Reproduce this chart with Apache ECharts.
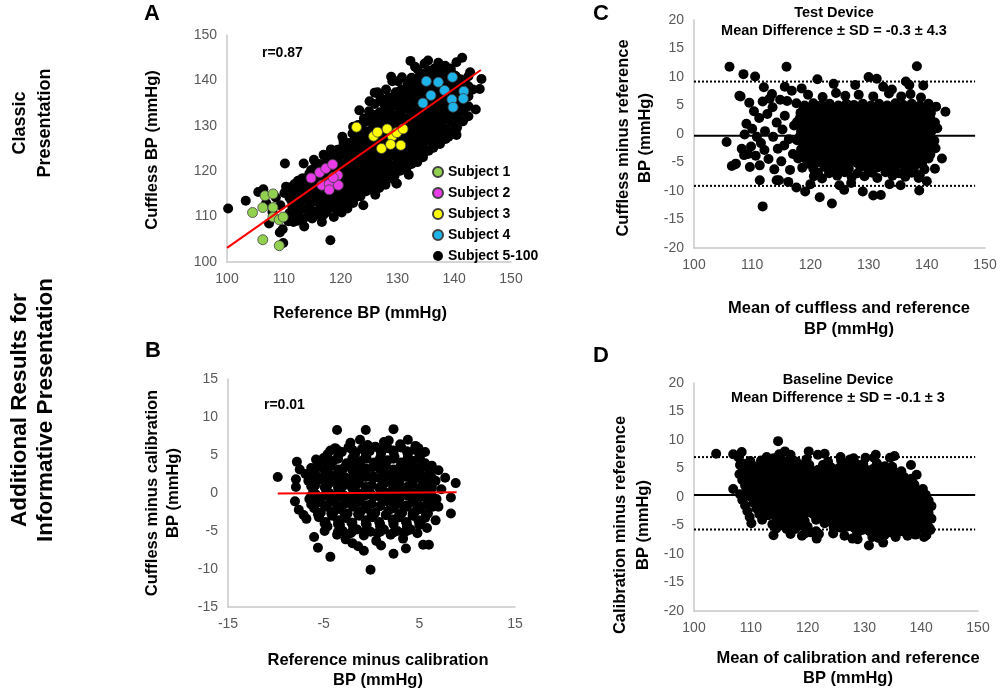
<!DOCTYPE html>
<html><head><meta charset="utf-8">
<script src="https://cdn.jsdelivr.net/npm/echarts/dist/echarts.min.js"></script>
<style>html,body{margin:0;padding:0;background:#fff}#c{width:1000px;height:692px}</style>
</head><body><div id="c"></div>
<script>
const FONT = '"Liberation Sans", Arial, Helvetica, sans-serif';

// ---------- tick values ----------
const ticksA_x = [100,110,120,130,140,150];
const ticksA_y = [100,110,120,130,140,150];
const ticksB_x = [-15,-5,5,15];
const ticksB_y = [-15,-10,-5,0,5,10,15];
const ticksC_x = [100,110,120,130,140,150];
const ticksC_y = [-20,-15,-10,-5,0,5,10,15,20];
const ticksD_x = [100,110,120,130,140,150];
const ticksD_y = [-20,-15,-10,-5,0,5,10,15,20];

// ---------- Panel A ----------
const subject1 = [[104.5,110.9],[106.3,112.0],[106.7,114.6],[108.1,115.0],[108.1,112.0],[106.3,104.9],[108.1,109.9],[109.2,109.3],[109.9,109.9],[109.2,103.6]];
const subject2 = [[114.8,118.5],[116.3,119.7],[117.4,120.6],[118.6,121.5],[116.7,116.9],[118.0,117.2],[118.0,115.9],[119.5,119.1],[119.6,116.9],[118.7,118.6]];
const subject3 = [[122.8,129.7],[125.8,127.7],[126.5,128.6],[128.2,129.3],[129.1,127.7],[129.9,128.5],[131.0,129.3],[127.2,125.0],[128.8,125.9],[130.6,125.7]];
const subject4 = [[135.1,139.8],[137.2,139.6],[139.7,140.7],[138.3,137.8],[135.9,136.7],[134.5,135.0],[139.6,135.8],[139.8,134.1],[141.7,137.6],[141.6,136.0]];
const subjectRest = [
[100.2,111.8],[103.3,113.5],[105.5,115.4],[106.9,113.0],[106.4,116.0],[108.0,111.0],[107.4,108.5],[108.6,114.2],
[109.3,106.5],[109.9,104.2],[109.8,107.2],[109.4,112.5],[110.1,115.2],[110.4,116.6],[110.2,121.7],[111.0,110.8],[111.3,113.6],[110.8,109.0],[111.7,108.8],[111.5,115.0],[111.9,117.2],[112.2,111.4],[112.3,113.9],
[112.8,112.5],[113.0,115.6],[113.2,118.4],[113.5,121.7],[112.7,110.2],[113.6,107.8],[113.9,114.0],[114.1,116.9],[114.4,112.0],[114.5,110.5],[114.7,118.3],[114.8,120.2],[114.6,115.2],[115.1,113.2],[115.0,109.6],[115.3,122.5],
[115.7,111.0],[115.9,114.6],[116.0,117.0],[115.9,119.8],[116.3,121.6],[116.5,112.8],[116.7,108.8],[116.8,115.8],[117.0,123.6],[117.2,110.7],[117.4,113.7],[117.5,118.8],[117.7,120.7],[117.9,116.2],[118.2,104.8],[118.1,111.9],[118.3,122.6],[118.3,124.8],
[118.6,114.0],[118.8,109.9],[118.9,117.6],[119.1,120.3],[119.3,122.8],[119.5,112.2],[119.7,115.6],[119.9,118.6],[120.1,124.6],[120.2,110.9],[120.3,121.2],[120.5,126.7],[120.7,113.9],[120.8,116.9],[120.9,119.4],[121.1,123.3],[121.2,111.8],
[121.4,115.0],[121.6,117.9],[121.7,120.5],[121.8,122.4],[121.9,125.2],[122.1,128.3],[122.2,113.0],[122.3,116.4],[122.5,119.1],[122.6,121.4],[122.8,123.8],[122.9,126.4],[123.1,130.2],[123.2,114.7],[123.4,117.5],[123.5,120.2],[123.6,122.6],[123.8,125.1],[123.9,127.6],[124.1,131.6],[124.0,112.5],
[124.2,115.9],[124.3,118.4],[124.5,121.0],[124.6,123.5],[124.7,126.1],[124.9,128.6],[125.0,133.2],[125.2,117.0],[125.3,119.6],[125.4,122.2],[125.6,124.6],[125.7,127.2],[125.8,129.8],[126.0,134.8],[126.1,114.8],[126.2,118.1],[126.4,120.8],[126.5,123.2],[126.6,125.8],[126.7,131.4],[126.9,133.0],[127.0,136.3],[126.8,116.3],
[127.0,119.3],[127.1,121.8],[127.2,124.3],[127.4,126.9],[127.5,129.4],[127.6,132.0],[127.8,134.5],[127.9,117.0],[128.0,120.3],[128.1,122.9],[128.3,125.5],[128.4,128.0],[128.5,130.6],[128.6,133.3],[128.8,136.0],[128.9,118.4],[129.0,121.2],[129.2,123.8],[129.3,126.4],[129.4,131.8],[129.5,134.6],[129.7,137.4],[129.1,139.8],[129.8,117.3],
[129.9,120.0],[130.0,122.6],[130.1,125.2],[130.3,127.7],[130.4,130.3],[130.5,132.9],[130.7,135.4],[130.8,138.0],[131.0,121.0],[131.1,123.7],[131.2,126.3],[131.4,128.9],[131.5,131.5],[131.6,134.1],[131.7,136.7],[131.8,139.3],[132.0,119.2],[132.1,122.8],[132.3,125.0],[132.4,127.6],[132.5,130.2],[132.6,132.8],[132.7,135.4],[132.3,144.3],[131.7,121.0],
[132.8,124.0],[132.9,126.6],[133.0,129.2],[133.2,131.8],[133.3,137.9],[133.4,140.4],[133.6,142.4],[133.7,125.4],[133.8,128.0],[133.9,130.6],[134.1,133.2],[134.2,136.0],[134.3,138.7],[134.5,141.3],[134.7,126.5],[134.8,129.2],[134.9,131.8],[135.0,134.4],[135.2,137.4],[134.8,143.7],[135.3,142.0],
[135.5,127.8],[135.6,130.4],[135.7,133.0],[135.9,135.6],[136.0,138.4],[136.1,141.2],[136.3,125.2],[136.5,129.0],[136.6,131.6],[136.8,134.2],[136.9,137.0],[137.1,139.8],[137.2,143.9],[137.4,142.2],[137.5,127.0],[137.6,130.2],[137.8,132.8],[137.9,135.4],[138.1,138.2],[138.3,141.0],[138.4,143.2],
[138.5,129.2],[138.7,131.8],[138.8,134.4],[139.0,137.2],[139.2,139.8],[139.4,142.6],[139.6,131.0],[139.8,133.4],[140.0,138.6],[140.2,141.0],[140.4,128.0],[140.6,132.8],[140.8,135.2],[141.0,137.8],[141.2,140.2],[140.4,144.0],
[141.4,145.0],[141.6,133.8],[141.9,134.1],[142.1,139.0],[142.4,136.5],[142.8,141.8],[143.8,133.6],[144.5,138.1],[144.8,140.3],[143.3,138.0],
[117.8,114.9],[118.4,119.3],[119.2,116.4],[119.6,121.8],[120.0,113.6],[120.6,118.0],[121.0,124.9],[121.2,121.1],[121.5,113.5],[122.0,119.3],[122.4,124.9],[122.7,117.6],[123.0,128.0],[123.3,121.4],[123.7,115.8],[123.7,129.3],[124.1,119.6],[124.4,124.6],[124.8,131.1],[124.8,117.2],
[125.1,121.0],[125.5,126.4],[125.8,132.4],[125.8,119.0],[126.2,124.5],[126.2,128.9],[126.6,121.9],[127.0,130.7],[127.0,117.9],[127.4,123.1],[127.4,135.6],[127.7,127.9],[128.2,121.6],[128.2,131.9],[128.7,124.4],[128.7,134.9],[129.1,127.4],[129.5,119.8],[129.6,129.6],[129.9,136.3],
[130.1,124.0],[130.2,134.2],[130.6,120.6],[130.7,128.8],[131.0,137.5],[131.1,131.0],[131.5,125.0],[131.6,123.0],[131.9,133.9],[132.0,137.9],[132.4,129.1],[132.5,140.6],[132.7,122.6],[132.8,134.9],[133.1,127.9],[133.1,139.2],[133.5,123.8],[133.5,133.0],[133.9,136.9],[134.0,126.9],
[134.3,131.6],[134.6,139.9],[134.6,124.0],[135.0,127.9],[135.0,135.7],[135.3,133.0],[135.4,140.5],[135.8,129.2],[135.9,136.9],[136.3,131.9],[136.5,142.6],[136.7,127.3],[136.8,135.7],[137.2,133.0],[137.3,138.6],[137.6,128.6],[137.7,136.6],[138.1,131.4],[138.2,139.7],[138.5,133.0],
[138.7,142.0],[139.0,127.6],[139.2,135.8],[139.4,138.6],[139.6,132.2],[139.9,140.0],[140.2,129.8],[140.5,136.5],[140.8,139.0],[141.4,136.8],[141.5,131.0],
[116.5,118.3],[116.9,110.3],[115.5,115.9],[114.6,113.5],[113.6,117.6],[113.1,113.9],[112.6,116.2],[111.7,112.4],[111.0,114.2],[115.4,120.7],[118.6,123.0],[120.3,127.6],[122.2,129.8],[123.3,133.4],[125.1,135.4],[126.0,137.3],[128.0,138.0],[128.9,140.8],[130.8,140.7],[133.1,143.0],[135.4,144.4],
[129.9,117.3],[136.3,125.2],[126.5,137.4],[130.1,139.8],
[111.5,110.0],[111.5,112.2],[111.5,114.4],[111.5,116.6],[112.5,109.1],[112.5,111.3],[112.5,113.5],[112.5,115.7],[112.5,117.9],
[113.5,109.6],[113.5,111.8],[113.5,114.0],[113.5,116.2],[113.5,118.4],[114.5,110.7],[114.5,112.9],[114.5,115.1],[114.5,117.3],[114.5,119.5],
[115.5,111.1],[115.5,113.3],[115.5,115.5],[115.5,117.7],[115.5,119.9],[116.5,110.2],[116.5,112.4],[116.5,114.6],[116.5,116.8],[116.5,119.0],[116.5,121.2],
[117.5,111.2],[117.5,113.4],[117.5,115.6],[117.5,117.8],[117.5,120.0],[117.5,122.2],
[118.5,112.3],[118.5,114.5],[118.5,116.7],[118.5,118.9],[118.5,121.1],[118.5,123.3],
[119.5,111.5],[119.5,113.7],[119.5,115.9],[119.5,118.1],[119.5,120.3],[119.5,122.5],[119.5,124.7],
[120.5,112.6],[120.5,114.8],[120.5,117.0],[120.5,119.2],[120.5,121.4],[120.5,123.6],[120.5,125.8],
[121.5,113.0],[121.5,115.2],[121.5,117.4],[121.5,119.6],[121.5,121.8],[121.5,124.0],[121.5,126.2],
[122.5,114.1],[122.5,116.3],[122.5,118.5],[122.5,120.7],[122.5,122.9],[122.5,125.1],[122.5,127.3],
[123.5,114.5],[123.5,116.7],[123.5,118.9],[123.5,121.1],[123.5,123.3],[123.5,125.5],[123.5,127.7],[123.5,129.9],
[124.5,115.6],[124.5,117.8],[124.5,120.0],[124.5,122.2],[124.5,124.4],[124.5,126.6],[124.5,128.8],[124.5,131.0],
[125.5,116.0],[125.5,118.2],[125.5,120.4],[125.5,122.6],[125.5,124.8],[125.5,127.0],[125.5,129.2],[125.5,131.4],
[126.5,117.1],[126.5,119.3],[126.5,121.5],[126.5,123.7],[126.5,125.9],[126.5,128.1],[126.5,130.3],[126.5,132.5],
[127.5,117.5],[127.5,119.7],[127.5,121.9],[127.5,124.1],[127.5,126.3],[127.5,128.5],[127.5,130.7],[127.5,132.9],[127.5,135.1],
[128.5,118.6],[128.5,120.8],[128.5,123.0],[128.5,125.2],[128.5,127.4],[128.5,129.6],[128.5,131.8],[128.5,134.0],[128.5,136.2],
[129.5,119.0],[129.5,121.2],[129.5,123.4],[129.5,125.6],[129.5,127.8],[129.5,130.0],[129.5,132.2],[129.5,134.4],[129.5,136.6],
[130.5,120.1],[130.5,122.3],[130.5,124.5],[130.5,126.7],[130.5,128.9],[130.5,131.1],[130.5,133.3],[130.5,135.5],[130.5,137.7],
[131.5,120.5],[131.5,122.7],[131.5,124.9],[131.5,127.1],[131.5,129.3],[131.5,131.5],[131.5,133.7],[131.5,135.9],[131.5,138.1],
[132.5,121.6],[132.5,123.8],[132.5,126.0],[132.5,128.2],[132.5,130.4],[132.5,132.6],[132.5,134.8],[132.5,137.0],[132.5,139.2],
[133.5,122.0],[133.5,124.2],[133.5,126.4],[133.5,128.6],[133.5,130.8],[133.5,133.0],[133.5,135.2],[133.5,137.4],[133.5,139.6],
[134.5,123.1],[134.5,125.3],[134.5,127.5],[134.5,129.7],[134.5,131.9],[134.5,134.1],[134.5,136.3],[134.5,138.5],[134.5,140.7],
[135.5,124.5],[135.5,126.7],[135.5,128.9],[135.5,131.1],[135.5,133.3],[135.5,135.5],[135.5,137.7],[135.5,139.9],[135.5,142.1],
[136.5,125.6],[136.5,127.8],[136.5,130.0],[136.5,132.2],[136.5,134.4],[136.5,136.6],[136.5,138.8],[136.5,141.0],
[137.5,126.0],[137.5,128.2],[137.5,130.4],[137.5,132.6],[137.5,134.8],[137.5,137.0],[137.5,139.2],[137.5,141.4],
[138.5,127.1],[138.5,129.3],[138.5,131.5],[138.5,133.7],[138.5,135.9],[138.5,138.1],[138.5,140.3],[138.5,142.5],
[139.5,128.5],[139.5,130.7],[139.5,132.9],[139.5,135.1],[139.5,137.3],[139.5,139.5],[139.5,141.7],
[140.5,129.6],[140.5,131.8],[140.5,134.0],[140.5,136.2],[140.5,138.4],[140.5,140.6],
[141.5,131.0],[141.5,133.2],[141.5,135.4],[141.5,137.6],[141.5,139.8],
[142.5,132.1],[142.5,134.3],[142.5,136.5],[142.5,138.7],[142.5,140.9]
];
const regressionA = [[100,103.1],[144.7,142.3]];

// ---------- Panel B ----------
const pointsB = [
[-2.2,6.6],[-0.4,6.3],[1.3,6.7],[3.0,6.4],
[-4.6,5.1],[-3.1,5.4],[-1.7,5.2],[-0.2,5.5],[1.0,5.2],[2.3,5.4],[3.8,5.1],[5.2,5.3],
[-5.6,4.0],[-4.0,4.2],[-2.6,3.9],[-1.1,4.2],[0.3,4.0],[1.7,4.3],[3.1,4.0],[4.4,4.2],[5.6,3.9],
[-6.2,2.8],[-4.9,3.0],[-3.4,2.7],[-2.0,3.0],[-0.6,2.8],[0.9,3.1],[2.3,2.8],[3.6,3.0],[5.0,2.7],[6.2,3.0],
[-6.6,1.6],[-5.4,1.8],[-4.1,1.5],[-2.7,1.8],[-1.3,1.6],[0.2,1.9],[1.6,1.6],[3.0,1.8],[4.3,1.5],[5.6,1.8],[6.7,1.6],
[-6.1,0.4],[-4.8,0.6],[-3.4,0.3],[-2.0,0.6],[-0.6,0.4],[0.8,0.7],[2.2,0.4],[3.6,0.6],[5.0,0.3],[6.3,0.6],
[-6.5,-0.8],[-5.3,-0.6],[-4.0,-0.9],[-2.6,-0.6],[-1.2,-0.8],[0.2,-0.5],[1.6,-0.8],[3.0,-0.6],[4.3,-0.9],[5.7,-0.6],[6.8,-0.8],
[-6.0,-2.0],[-4.7,-1.8],[-3.3,-2.1],[-1.9,-1.8],[-0.5,-2.0],[0.9,-1.7],[2.3,-2.0],[3.7,-1.8],[5.1,-2.1],[6.4,-1.8],
[-5.5,-3.2],[-4.1,-3.0],[-2.7,-3.3],[-1.3,-3.0],[0.1,-3.2],[1.5,-2.9],[2.9,-3.2],[4.3,-3.0],[5.6,-3.3],
[-4.6,-4.4],[-3.3,-4.2],[-1.9,-4.5],[-0.5,-4.2],[0.9,-4.4],[2.3,-4.1],[3.7,-4.4],[5.0,-4.2],
[-3.6,-5.5],[-2.2,-5.3],[-0.8,-5.6],[0.6,-5.3],[2.0,-5.5],[3.4,-5.2],
[-3.8,5.9],[-2.4,6.0],[-1.0,5.8],[0.4,6.1],[1.7,5.9],[3.1,6.0],[4.5,5.7],
[-5.0,4.6],[-3.5,4.8],[-2.0,4.6],[-0.6,4.9],[0.9,4.6],[2.4,4.8],[3.8,4.6],[5.0,4.8],
[-5.6,3.4],[-4.3,3.6],[-2.9,3.3],[-1.4,3.6],[0.1,3.4],[1.5,3.7],[3.0,3.4],[4.3,3.6],[5.7,3.4],
[-5.7,2.2],[-4.3,2.4],[-2.8,2.1],[-1.3,2.4],[0.2,2.2],[1.6,2.5],[3.0,2.2],[4.4,2.4],[5.8,2.2],
[-5.9,1.0],[-4.5,1.2],[-3.0,0.9],[-1.5,1.2],[0.0,1.0],[1.4,1.3],[2.9,1.0],[4.3,1.2],[5.7,0.9],
[-5.8,-0.2],[-4.4,0.0],[-2.9,-0.3],[-1.4,0.0],[0.0,-0.2],[1.4,0.1],[2.9,-0.2],[4.3,0.0],[5.6,-0.3],
[-5.8,-1.4],[-4.3,-1.2],[-2.9,-1.5],[-1.4,-1.2],[0.0,-1.4],[1.5,-1.1],[2.9,-1.4],[4.4,-1.2],[5.8,-1.5],
[-5.3,-2.6],[-3.9,-2.4],[-2.5,-2.7],[-1.1,-2.4],[0.4,-2.6],[1.8,-2.3],[3.2,-2.6],[4.6,-2.4],[5.9,-2.7],
[-4.8,-3.8],[-3.5,-3.6],[-2.0,-3.9],[-0.6,-3.6],[0.8,-3.8],[2.2,-3.5],[3.6,-3.8],[4.9,-3.6],
[-3.0,-5.0],[-1.5,-4.8],[-0.1,-5.1],[1.3,-4.8],[2.7,-5.0],[4.1,-4.8],
[-3.5,5.6],[-2.0,5.7],[-0.5,5.5],[0.9,5.7],[2.3,5.6],[3.7,5.5],
[-4.9,4.4],[-3.5,4.5],[-2.0,4.3],[-0.5,4.5],[0.9,4.4],[2.3,4.5],[3.7,4.3],[5.1,4.4],
[-6.3,3.3],[-4.9,3.2],[-3.5,3.1],[-2.1,3.3],[-0.6,3.2],[0.9,3.3],[2.3,3.1],[3.7,3.2],[5.1,3.3],[6.3,3.1],
[-6.3,2.0],[-4.9,2.1],[-3.5,1.9],[-2.1,2.0],[-0.6,2.1],[0.9,1.9],[2.3,2.0],[3.7,2.1],[5.1,1.9],[6.3,2.0],
[-6.3,0.9],[-4.9,0.8],[-3.5,0.7],[-2.1,0.9],[-0.6,0.8],[0.9,0.7],[2.3,0.9],[3.7,0.8],[5.1,0.7],[6.3,0.9],
[-6.3,-0.4],[-4.9,-0.3],[-3.5,-0.5],[-2.1,-0.4],[-0.6,-0.3],[0.9,-0.5],[2.3,-0.4],[3.7,-0.3],[5.1,-0.5],[6.3,-0.4],
[-6.3,-1.5],[-4.9,-1.6],[-3.5,-1.7],[-2.1,-1.5],[-0.6,-1.6],[0.9,-1.7],[2.3,-1.5],[3.7,-1.6],[5.1,-1.7],[6.3,-1.5],
[-5.6,-2.8],[-4.2,-2.7],[-2.8,-2.9],[-1.4,-2.8],[0.0,-2.7],[1.5,-2.9],[2.9,-2.8],[4.3,-2.7],[5.7,-2.9],
[-4.9,-4.0],[-3.5,-4.1],[-2.1,-3.9],[-0.6,-4.0],[0.9,-4.1],[2.3,-3.9],[3.7,-4.0],[5.1,-4.1],
[-3.5,-5.1],[-2.1,-5.2],[-0.6,-5.0],[0.9,-5.1],[2.3,-5.2],[3.7,-5.0],
[-9.8,2.1],[-7.8,4.1],[-7.5,3.1],[-7.9,1.8],[-7.9,0.8],[-8.0,-1.1],[-7.6,-2.2],[-7.1,-2.9],[-6.0,-5.8],[-5.6,-7.2],[-4.3,-8.4],[-3.6,8.3],[-0.6,8.3],[2.3,8.4],[-0.1,-10.1],[2.3,-8.0],[3.6,-7.3],[6.0,-6.8],[5.4,-6.8],[7.7,2.0],[8.8,1.3],[8.3,-0.6],[8.3,-2.7],[6.7,-3.6],[-5.8,4.4],[-4.3,5.6],[4.6,6.2],[5.6,5.4],[1.0,-6.9],[-2.0,-6.6],[-1.4,-7.0],[7.0,-1.8],[7.3,0.5],[-6.8,-3.4],[-2.7,-6.1],[1.8,6.9],[-1.2,7.0],[0.5,-6.3],[3.3,-6.0],[4.8,-5.3],[-4.9,-5.0],[6.3,3.6],[7.0,3.0],[-6.9,2.5],[5.8,-4.6],[-0.8,-7.6],[3.8,7.0],[4.9,5.9]
];
const regressionB = [[-9.8,-0.05],[8.9,0.1]];

// ---------- Panel C ----------
const pointsC = [
[119.6,6.9],[122.1,6.5],[124.4,7.2],[126.0,6.7],[128.3,6.9],[130.8,6.6],[133.5,7.1],[135.6,6.6],[137.2,7.0],[139.0,6.4],
[117.6,5.4],[119.0,5.0],[120.5,5.4],[121.9,5.1],[123.3,5.3],[124.8,5.0],[126.2,5.3],[127.5,5.1],[129.0,5.3],[130.4,5.0],[131.8,5.3],[133.2,5.0],[134.6,5.4],[136.0,5.1],[137.4,5.3],[138.8,5.0],[140.3,5.3],
[118.3,3.7],[119.7,3.5],[121.1,3.8],[122.5,3.5],[123.9,3.7],[125.3,3.5],[126.7,3.8],[128.1,3.5],[129.5,3.7],[130.9,3.5],[132.3,3.8],[133.7,3.5],[135.1,3.7],[136.5,3.5],[137.9,3.8],[139.3,3.5],[140.7,3.7],
[117.7,2.1],[119.1,1.9],[120.5,2.2],[121.9,1.9],[123.3,2.1],[124.7,1.9],[126.1,2.2],[127.5,1.9],[128.9,2.1],[130.3,1.9],[131.7,2.2],[133.1,1.9],[134.5,2.1],[135.9,1.9],[137.3,2.2],[138.7,1.9],[140.1,2.1],[141.4,2.0],
[118.4,0.5],[119.8,0.3],[121.2,0.6],[122.6,0.3],[124.0,0.5],[125.4,0.3],[126.8,0.6],[128.2,0.3],[129.6,0.5],[131.0,0.3],[132.4,0.6],[133.8,0.3],[135.2,0.5],[136.6,0.3],[138.0,0.6],[139.4,0.3],[140.8,0.5],
[117.7,-1.1],[119.1,-1.3],[120.5,-1.0],[121.9,-1.3],[123.3,-1.1],[124.7,-1.3],[126.1,-1.0],[127.5,-1.3],[128.9,-1.1],[130.3,-1.3],[131.7,-1.0],[133.1,-1.3],[134.5,-1.1],[135.9,-1.3],[137.3,-1.0],[138.7,-1.3],[140.1,-1.1],[141.3,-1.2],
[118.4,-2.7],[119.8,-2.9],[121.2,-2.6],[122.6,-2.9],[124.0,-2.7],[125.4,-2.9],[126.8,-2.6],[128.2,-2.9],[129.6,-2.7],[131.0,-2.9],[132.4,-2.6],[133.8,-2.9],[135.2,-2.7],[136.6,-2.9],[138.0,-2.6],[139.4,-2.9],[140.8,-2.7],
[117.9,-4.3],[119.3,-4.5],[120.7,-4.2],[122.1,-4.5],[123.5,-4.3],[124.9,-4.5],[126.3,-4.2],[127.7,-4.5],[129.1,-4.3],[130.5,-4.5],[131.9,-4.2],[133.3,-4.5],[134.7,-4.3],[136.1,-4.5],[137.5,-4.2],[138.9,-4.5],[140.3,-4.3],
[118.6,-5.9],[120.5,-6.1],[122.4,-5.8],[123.8,-6.2],[125.2,-5.9],[126.6,-6.1],[128.6,-5.8],[130.0,-6.2],[131.4,-5.9],[132.8,-6.1],[134.2,-5.8],[136.3,-6.1],[137.8,-5.9],[139.6,-6.2],
[120.6,-7.4],[122.0,-7.8],[124.6,-7.3],[127.1,-7.6],[129.3,-7.4],[131.5,-7.7],[134.1,-7.3],[136.3,-7.5],[138.6,-7.7],
[118.8,4.3],[120.2,4.5],[121.6,4.2],[123.0,4.5],[124.4,4.3],[125.8,4.5],[127.2,4.2],[128.6,4.5],[130.0,4.3],[131.4,4.5],[132.8,4.2],[134.2,4.5],[135.6,4.3],[137.0,4.5],[138.4,4.2],[139.8,4.5],
[118.2,2.8],[119.6,2.9],[121.0,2.7],[122.4,2.9],[123.8,2.8],[125.2,2.7],[126.6,2.9],[128.0,2.8],[129.4,2.7],[130.8,2.9],[132.2,2.8],[133.6,2.7],[135.0,2.9],[136.4,2.8],[137.8,2.7],[139.2,2.9],[140.6,2.8],
[118.8,1.2],[120.2,1.3],[121.6,1.1],[123.0,1.3],[124.4,1.2],[125.8,1.1],[127.2,1.3],[128.6,1.2],[130.0,1.1],[131.4,1.3],[132.8,1.2],[134.2,1.1],[135.6,1.3],[137.0,1.2],[138.4,1.1],[139.8,1.3],[141.1,1.2],
[118.2,-0.4],[119.6,-0.3],[121.0,-0.5],[122.4,-0.3],[123.8,-0.4],[125.2,-0.5],[126.6,-0.3],[128.0,-0.4],[129.4,-0.5],[130.8,-0.3],[132.2,-0.4],[133.6,-0.5],[135.0,-0.3],[136.4,-0.4],[137.8,-0.5],[139.2,-0.3],[140.6,-0.4],
[118.8,-2.0],[120.2,-1.9],[121.6,-2.1],[123.0,-1.9],[124.4,-2.0],[125.8,-2.1],[127.2,-1.9],[128.6,-2.0],[130.0,-2.1],[131.4,-1.9],[132.8,-2.0],[134.2,-2.1],[135.6,-1.9],[137.0,-2.0],[138.4,-2.1],[139.8,-1.9],[141.1,-2.0],
[118.2,-3.6],[119.6,-3.5],[121.0,-3.7],[122.4,-3.5],[123.8,-3.6],[125.2,-3.7],[126.6,-3.5],[128.0,-3.6],[129.4,-3.7],[130.8,-3.5],[132.2,-3.6],[133.6,-3.7],[135.0,-3.5],[136.4,-3.6],[137.8,-3.7],[139.2,-3.5],[140.6,-3.6],
[119.6,-5.2],[121.0,-5.1],[122.4,-5.3],[123.8,-5.1],[125.2,-5.2],[126.6,-5.3],[128.0,-5.1],[129.4,-5.2],[130.8,-5.3],[132.2,-5.1],[133.6,-5.2],[135.0,-5.3],[136.4,-5.1],[137.8,-5.2],[139.2,-5.3],
[121.3,-6.8],[123.2,-6.9],[125.9,-6.7],[128.1,-6.9],[130.6,-6.8],[132.9,-6.7],[135.2,-6.9],[137.4,-6.8],
[108.0,6.6],[109.5,5.5],[110.3,4.0],[111.2,2.8],[109.0,1.8],[110.0,0.9],[108.7,-0.1],[110.8,-0.5],[109.8,-2.2],[108.2,-2.6],[110.6,-3.8],[111.5,-1.6],[112.2,0.5],[112.6,3.5],[111.8,5.7],[113.5,4.7],[113.0,6.2],[114.2,2.0],[113.6,-0.5],[114.4,-2.6],[112.8,-4.4],[113.8,-6.2],[115.0,-4.8],[115.5,-2.0],[115.2,0.8],[115.6,3.2],[116.0,5.8],[116.3,-0.9],[116.5,-6.3],[117.0,-3.5],[117.2,1.5],[116.8,7.6],[112.0,8.2],[111.3,-5.5],[114.6,-8.1],[116.2,-8.4],[113.4,7.0],[114.8,6.0],[115.6,8.3],[112.1,-2.8],[109.3,-3.5],[107.2,-5.2],
[106.1,11.8],[115.9,11.8],[138.3,11.9],[108.5,10.5],[110.5,10.1],[121.2,9.6],[107.8,6.7],[105.6,-1.4],[106.5,-5.6],[107.1,-5.3],[111.8,-12.7],[109.6,-5.8],[111.3,-8.1],[114.2,-8.1],[117.6,-9.4],[119.1,-10.1],[121.6,-11.1],[123.7,-12.2],[125.8,-9.8],[129.0,-10.1],[130.8,-10.8],[132.1,-10.7],[138.7,-9.9],[142.6,-4.3],[143.2,3.9],[141.4,-6.1],[131.4,9.7],[127.7,8.6],[139.4,8.5],[136.4,9.2],[134.0,7.8],[108.6,-3.7],[125.0,-9.0],[133.6,-8.8],[127.0,-8.6],[120.0,-8.8],[140.0,-8.3],[138.8,-7.2],[141.6,4.8],[141.8,1.0],[141.5,-2.5],[130.0,10.0],[132.5,8.3],[137.0,8.6],[135.5,-9.0],[124.0,8.8],[118.5,8.0]
];
const meanC = -0.3, upperC = 9.2, lowerC = -9.1, lineEndC = 148.3;

// ---------- Panel D ----------
const pointsD = [
[116.1,-1.2],[116.6,-2.2],[117.1,-3.2],[117.6,-4.2],[118.1,-5.2],
[116.6,0.4],[117.1,-0.6],[117.6,-1.6],[118.1,-2.6],[118.6,-3.6],[119.1,-4.6],
[115.7,5.2],[116.2,4.2],[116.7,3.2],[117.2,2.2],[117.7,1.2],[118.2,0.2],[118.7,-0.8],[119.2,-1.8],[119.7,-2.8],
[116.5,6.0],[117.0,5.0],[117.5,4.0],[118.0,3.0],[118.5,2.0],[119.0,1.0],[119.5,0.0],[120.0,-1.0],[120.5,-2.0],[121.0,-3.0],[121.5,-4.0],
[117.0,7.4],[117.5,6.4],[118.0,5.4],[118.5,4.4],[119.0,3.4],[119.5,2.4],[120.0,1.4],[120.5,0.4],[121.0,-0.6],[121.5,-1.6],[122.0,-2.6],[122.5,-3.6],[123.0,-4.6],
[119.1,5.6],[119.6,4.6],[120.1,3.6],[120.6,2.6],[121.1,1.6],[121.6,0.6],[122.1,-0.4],[122.6,-1.4],[123.1,-2.4],[123.6,-3.4],[124.1,-4.4],[124.6,-5.4],
[119.8,6.6],[120.3,5.6],[120.8,4.6],[121.3,3.6],[121.8,2.6],[122.3,1.6],[122.8,0.6],[123.3,-0.4],[123.8,-1.4],[124.3,-2.4],[124.8,-3.4],[125.3,-4.4],[125.8,-5.4],
[121.9,4.8],[122.4,3.8],[122.9,2.8],[123.4,1.8],[123.9,0.8],[124.4,-0.2],[124.9,-1.2],[125.4,-2.2],[125.9,-3.2],[126.4,-4.2],[126.9,-5.2],
[122.7,5.6],[123.2,4.6],[123.7,3.6],[124.2,2.6],[124.7,1.6],[125.2,0.6],[125.7,-0.4],[126.2,-1.4],[126.7,-2.4],[127.2,-3.4],[127.7,-4.4],[128.2,-5.4],[128.7,-6.4],
[123.6,6.2],[124.1,5.2],[124.6,4.2],[125.1,3.2],[125.6,2.2],[126.1,1.2],[126.6,0.2],[127.1,-0.8],[127.6,-1.8],[128.1,-2.8],[128.6,-3.8],[129.1,-4.8],[129.6,-5.8],
[125.4,5.0],[125.9,4.0],[126.4,3.0],[126.9,2.0],[127.4,1.0],[127.9,0.0],[128.4,-1.0],[128.9,-2.0],[129.4,-3.0],[129.9,-4.0],[130.4,-5.0],[130.9,-6.0],[131.4,-7.0],
[125.9,6.4],[126.4,5.4],[126.9,4.4],[127.4,3.4],[127.9,2.4],[128.4,1.4],[128.9,0.4],[129.4,-0.6],[129.9,-1.6],[130.4,-2.6],[130.9,-3.6],[131.4,-4.6],[131.9,-5.6],[132.4,-6.6],
[127.6,5.4],[128.1,4.4],[128.6,3.4],[129.1,2.4],[129.6,1.4],[130.1,0.4],[130.6,-0.6],[131.1,-1.6],[131.6,-2.6],[132.1,-3.6],[132.6,-4.6],[133.1,-5.6],[133.6,-6.6],
[128.1,6.8],[128.6,5.8],[129.1,4.8],[129.6,3.8],[130.1,2.8],[130.6,1.8],[131.1,0.8],[131.6,-0.2],[132.1,-1.2],[132.6,-2.2],[133.1,-3.2],[133.6,-4.2],[134.1,-5.2],[134.6,-6.2],
[129.8,5.8],[130.3,4.8],[130.8,3.8],[131.3,2.8],[131.8,1.8],[132.3,0.8],[132.8,-0.2],[133.3,-1.2],[133.8,-2.2],[134.3,-3.2],[134.8,-4.2],[135.3,-5.2],[135.8,-6.2],
[131.5,4.9],[132.0,3.9],[132.5,2.9],[133.0,1.9],[133.5,0.9],[134.0,-0.1],[134.5,-1.1],[135.0,-2.1],[135.5,-3.1],[136.0,-4.1],[136.5,-5.1],[137.0,-6.1],
[131.7,6.9],[132.2,5.9],[132.7,4.9],[133.2,3.9],[133.7,2.9],[134.2,1.9],[134.7,0.9],[135.2,-0.1],[135.7,-1.1],[136.2,-2.1],[136.7,-3.1],[137.2,-4.1],[137.7,-5.1],[138.2,-6.1],
[133.6,5.4],[134.1,4.4],[134.6,3.4],[135.1,2.4],[135.6,1.4],[136.1,0.4],[136.6,-0.6],[137.1,-1.6],[137.6,-2.6],[138.1,-3.6],[138.6,-4.6],[139.1,-5.6],
[134.9,5.3],[135.4,4.3],[135.9,3.3],[136.4,2.3],[136.9,1.3],[137.4,0.3],[137.9,-0.7],[138.4,-1.7],[138.9,-2.7],[139.4,-3.7],[139.9,-4.7],[140.4,-5.7],[140.9,-6.7],
[136.5,4.5],[137.0,3.5],[137.5,2.5],[138.0,1.5],[138.5,0.5],[139.0,-0.5],[139.5,-1.5],[140.0,-2.5],[140.5,-3.5],[141.0,-4.5],[141.5,-5.5],
[138.3,3.2],[138.8,2.2],[139.3,1.2],[139.8,0.2],[140.3,-0.8],[140.8,-1.8],[141.3,-2.8],[141.8,-3.8],
[140.3,1.4],[140.8,0.4],[141.3,-0.6],[141.8,-1.6],
[108.0,4.0],[108.5,3.0],[109.0,2.0],[109.5,1.0],[110.0,0.0],[110.5,-1.0],[111.0,-2.0],[111.5,-3.0],[112.0,-4.0],
[109.6,6.0],[110.1,5.0],[110.6,4.0],[111.1,3.0],[111.6,2.0],[112.1,1.0],[112.6,0.0],[113.1,-1.0],[113.6,-2.0],[114.1,-3.0],[114.6,-4.0],[115.1,-5.0],
[111.1,5.4],[111.6,4.4],[112.1,3.4],[112.6,2.4],[113.1,1.4],[113.6,0.4],[114.1,-0.6],[114.6,-1.6],[115.1,-2.6],[115.6,-3.6],[116.1,-4.6],[116.6,-5.6],
[111.8,6.4],[112.3,5.4],[112.8,4.4],[113.3,3.4],[113.8,2.4],[114.3,1.4],[114.8,0.4],[115.3,-0.6],[115.8,-1.6],[116.3,-2.6],[116.8,-3.6],[117.3,-4.6],[117.8,-5.6],
[112.8,7.0],[113.3,6.0],[113.8,5.0],[114.3,4.0],[114.8,3.0],[115.3,2.0],[115.8,1.0],[116.3,0.0],[116.8,-1.0],[117.3,-2.0],[117.8,-3.0],[118.3,-4.0],[118.8,-5.0],[119.5,-6.4],
[114.0,6.8],[114.5,5.8],[115.0,4.8],[115.5,3.8],[116.0,2.8],[116.5,1.8],[117.0,0.8],[117.5,-0.2],[118.0,-1.2],[118.5,-2.2],[119.0,-3.2],[119.5,-4.2],[120.0,-5.2],[120.5,-6.2],
[107.8,7.0],[108.3,6.0],[108.8,5.0],[109.3,4.0],[109.8,3.0],[110.3,2.0],[110.8,1.0],
[121.5,-6.0],[119.0,-6.8],[117.0,-6.5],
[103.9,7.6],[106.9,7.5],[108.4,7.9],[106.9,1.4],[108.1,5.6],[108.6,4.6],[109.1,3.6],[109.6,2.6],[108.1,0.5],[108.5,-0.5],[109.0,-1.5],[109.4,-2.5],[109.8,-3.5],[110.1,-4.6],[109.9,6.3],[110.4,5.3],[110.9,4.3],[111.4,3.3],[111.9,2.3],[112.4,1.3],[112.9,0.3],[110.6,1.8],[111.1,0.8],[111.6,-0.2],[112.1,-1.2],[112.6,-2.2],[113.1,-3.2],[112.2,5.6],[112.7,4.6],[113.2,3.6],[113.7,2.6],[114.2,1.6],[114.7,0.6],[115.2,-0.4],[113.6,-0.5],[114.1,-1.5],[114.6,-2.5],[115.1,-3.5],[115.6,-4.5],[114.0,-6.7],[114.5,-5.5],[114.8,9.8],[115.0,7.5],[115.5,6.5],[116.0,8.0],[116.0,5.5],[116.5,4.5],[120.2,8.0],[121.8,7.4],[113.8,-4.8],[116.3,-5.6],[115.0,-5.0],
[121.6,-7.3],[127.9,-7.3],[128.8,-7.4],[130.8,-8.5],[133.3,-8.0],[132.0,7.4],[135.3,7.2],[138.2,5.6],[139.2,3.9],[141.6,-5.8],[140.5,-7.0],[126.1,6.0],[125.8,7.0],[130.2,6.9],[118.0,6.2],[122.0,-6.5],[124.5,-6.4],[126.5,-6.8],[132.5,-7.2],[135.5,-7.0],[137.6,-6.8],[139.0,-6.6],[123.0,7.6],[127.5,6.6],[134.5,6.9]
];
const meanD = 0.35, upperD = 7.0, lowerD = -5.7, lineEndD = 149.5;

// ---------- chart ----------
function axis(ticks, gridIndex) {
  return {
    type: 'value', gridIndex: gridIndex,
    min: ticks[0], max: ticks[ticks.length - 1], interval: ticks[1] - ticks[0],
    axisLine: { show: true, onZero: false, lineStyle: { color: '#C8C8C8', width: 1.5 } },
    axisTick: { show: false },
    splitLine: { show: false },
    axisLabel: { color: '#595959', fontSize: 14, fontFamily: FONT, margin: 10 }
  };
}
function pts(name, data, xi, color, border) {
  return { type: 'scatter', name: name, xAxisIndex: xi, yAxisIndex: xi, data: data,
    symbol: 'circle', symbolSize: 10, z: 3,
    itemStyle: { color: color, borderColor: border ? '#404040' : color, borderWidth: border ? 0.8 : 0, opacity: 1 } };
}
function seg(name, data, xi, color, type, z) {
  return { type: 'line', name: name, xAxisIndex: xi, yAxisIndex: xi, data: data,
    symbol: 'none', z: z, silent: true,
    lineStyle: { color: color, width: 2, type: type } };
}
function txt(x, y, s, size, opts) {
  opts = opts || {};
  return { type: 'text', x: x, y: y, rotation: opts.rot || 0, z: 10,
    style: { text: s, font: (opts.weight || 'bold') + ' ' + size + 'px ' + FONT,
      fill: opts.color || '#000', align: opts.align || 'center', verticalAlign: 'middle',
      textAlign: opts.align || 'center', textVerticalAlign: 'middle' } };
}
const R = Math.PI / 2;

const chart = echarts.init(document.getElementById('c'), null, { renderer: 'canvas' });
chart.setOption({
  animation: false,
  backgroundColor: '#fff',
  grid: [
    { left: 227, top: 35, width: 284, height: 227 },
    { left: 228, top: 379, width: 287, height: 228 },
    { left: 694, top: 20, width: 291, height: 228 },
    { left: 694, top: 383, width: 284, height: 228 }
  ],
  xAxis: [axis(ticksA_x, 0), axis(ticksB_x, 1), axis(ticksC_x, 2), axis(ticksD_x, 3)],
  yAxis: [axis(ticksA_y, 0), axis(ticksB_y, 1), axis(ticksC_y, 2), axis(ticksD_y, 3)],
  legend: {
    orient: 'vertical', left: 427, top: 160, itemWidth: 10, itemHeight: 10, itemGap: 7,
    icon: 'circle', selectedMode: false,
    textStyle: { fontFamily: FONT, fontWeight: 'bold', fontSize: 14, color: '#000', lineHeight: 14 },
    data: ['Subject 1', 'Subject 2', 'Subject 3', 'Subject 4', 'Subject 5-100']
  },
  series: [
    pts('Subject 5-100', subjectRest, 0, '#000000', false),
    pts('Subject 1', subject1, 0, '#92D050', true),
    pts('Subject 2', subject2, 0, '#E83CE8', true),
    pts('Subject 3', subject3, 0, '#FFFF00', true),
    pts('Subject 4', subject4, 0, '#1EB4EA', true),
    seg('fitA', regressionA, 0, '#FF0000', 'solid', 5),
    pts('B', pointsB, 1, '#000000', false),
    seg('fitB', regressionB, 1, '#FF0000', 'solid', 5),
    seg('upperC', [[100, upperC], [lineEndC, upperC]], 2, '#000', 'dotted', 1),
    seg('meanC', [[100, meanC], [lineEndC, meanC]], 2, '#000', 'solid', 1),
    seg('lowerC', [[100, lowerC], [lineEndC, lowerC]], 2, '#000', 'dotted', 1),
    pts('C', pointsC, 2, '#000000', false),
    seg('upperD', [[100, upperD], [lineEndD, upperD]], 3, '#000', 'dotted', 1),
    seg('meanD', [[100, meanD], [lineEndD, meanD]], 3, '#000', 'solid', 1),
    seg('lowerD', [[100, lowerD], [lineEndD, lowerD]], 3, '#000', 'dotted', 1),
    pts('D', pointsD, 3, '#000000', false)
  ],
  graphic: [
    txt(20, 123, 'Classic', 18, { rot: R }),
    txt(45, 123, 'Presentation', 18, { rot: R }),
    txt(20, 410, 'Additional Results for', 22.5, { rot: R }),
    txt(46, 410, 'Informative Presentation', 22.5, { rot: R }),
    txt(152, 14, 'A', 22), txt(153, 351, 'B', 22), txt(601, 14, 'C', 22), txt(601, 356, 'D', 22),
    txt(262, 53, 'r=0.87', 14, { align: 'left' }),
    txt(264, 405, 'r=0.01', 14, { align: 'left' }),
    txt(360, 313, 'Reference BP (mmHg)', 16.5),
    txt(152, 150, 'Cuffless BP (mmHg)', 16.5, { rot: R }),
    txt(378, 660, 'Reference minus calibration', 16.5),
    txt(378, 680, 'BP (mmHg)', 16.5),
    txt(152, 493, 'Cuffless minus calibration', 16.5, { rot: R }),
    txt(173, 493, 'BP (mmHg)', 16.5, { rot: R }),
    txt(834, 13, 'Test Device', 14.5),
    txt(834, 31, 'Mean Difference \u00B1 SD = -0.3 \u00B1 4.3', 14.5),
    txt(849, 308, 'Mean of cuffless and reference', 16.5),
    txt(849, 329, 'BP (mmHg)', 16.5),
    txt(623, 138, 'Cuffless minus reference', 16.5, { rot: R }),
    txt(645, 138, 'BP (mmHg)', 16.5, { rot: R }),
    txt(838, 380, 'Baseline Device', 14.5),
    txt(838, 398, 'Mean Difference \u00B1 SD = -0.1 \u00B1 3', 14.5),
    txt(848, 658, 'Mean of calibration and reference', 16.5),
    txt(848, 678, 'BP (mmHg)', 16.5),
    txt(620, 525, 'Calibration minus reference', 16.5, { rot: R }),
    txt(643, 525, 'BP (mmHg)', 16.5, { rot: R })
  ]
});
</script></body></html>
